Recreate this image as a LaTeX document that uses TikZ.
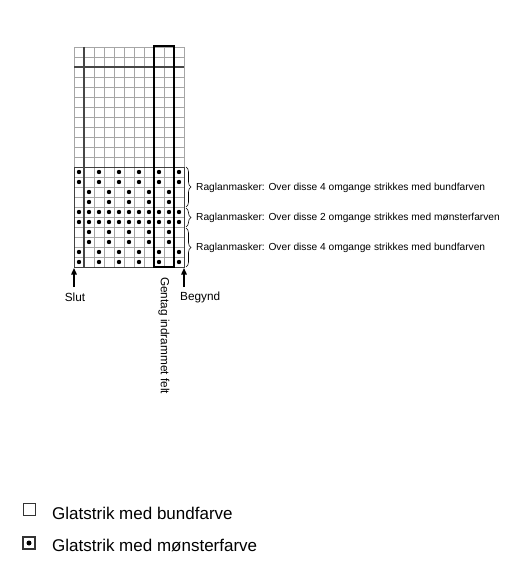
\documentclass[tikz,border=0pt]{standalone}
\usepackage{fontspec}
\setmainfont{Liberation Sans}
\usetikzlibrary{arrows.meta,positioning,decorations.pathreplacing}

\begin{document}
\begin{tikzpicture}[x=1pt,y=-1pt,
gridline/.style={draw=gray!70,line width=0.5pt},
heavyline/.style={draw=gray!55!black,line width=1.3pt},
stitch/.style={circle,fill=black,inner sep=0pt,minimum size=4.4pt},
repframe/.style={draw=black,line width=2.6pt},
ragbrace/.style={decorate,decoration={brace,amplitude=5pt},line width=0.6pt},
ragtext/.style={anchor=west,inner sep=0pt,font=\fontsize{10.2}{12}\selectfont},
marktext/.style={inner sep=0pt,font=\fontsize{11.8}{14}\selectfont},
markarrow/.style={-{Triangle[length=6.5pt,width=5.5pt]},line width=1.4pt},
legendbox/.style={draw=black!80,line width=0.6pt,minimum size=12pt,inner sep=0pt},
legendtext/.style={anchor=west,inner sep=0pt,font=\fontsize{17}{19}\selectfont}]
\useasboundingbox (0,0) rectangle (526,575);
% chart grid, 11 masker x 22 omgange
\foreach \i in {0,...,11} \draw[gridline] (74+10*\i,47) -- (74+10*\i,267);
\foreach \j in {0,...,22} \draw[gridline] (74,47+10*\j) -- (184,47+10*\j);
\draw[gridline,draw=black!75] (74,167) rectangle (184,267);
\draw[heavyline] (84,47) -- (84,267);
\draw[heavyline] (74,67) -- (184,67);
% pattern rows
\foreach \r in {1,2,9,10} \foreach \c in {1,3,...,11}
  \node[stitch] at (69+10*\c,162+10*\r) {};
\foreach \r in {3,4,7,8} \foreach \c in {2,4,...,10}
  \node[stitch] at (69+10*\c,162+10*\r) {};
\foreach \r in {5,6} \foreach \c in {1,...,11}
  \node[stitch] at (69+10*\c,162+10*\r) {};
\draw[repframe] (154,46) rectangle (174,267);
% braces
\coordinate (b1) at (186,167);
\coordinate (b2) at (186,207);
\coordinate (b3) at (186,208);
\coordinate (b4) at (186,227);
\coordinate (b5) at (186,228);
\coordinate (b6) at (186,267);
\draw[ragbrace] (b1) -- (b2);
\draw[ragbrace] (b3) -- (b4);
\draw[ragbrace] (b5) -- (b6);
\node[ragtext] (rag1) at (196,188) {Raglanmasker: Over disse 4 omgange strikkes med bundfarven};
\node[ragtext] (rag2) at (196,218) {Raglanmasker: Over disse 2 omgange strikkes med mønsterfarven};
\node[ragtext] (rag3) at (196,248) {Raglanmasker: Over disse 4 omgange strikkes med bundfarven};
% start and end
\coordinate (gl) at (74,268);
\coordinate (gr) at (184,268);
\node[marktext] (slut) at (75,297) {Slut};
\node[marktext,anchor=west] (begynd) at (180,297) {Begynd};
\draw[markarrow] (74,287) -- (gl);
\draw[markarrow] (184,287) -- (gr);
\node[marktext,rotate=-90,anchor=west] (gentag) at (164,277) {Gentag indrammet felt};
% legend
\node[legendbox] (lbund) at (29,509) {};
\node[legendtext] (tbund) at (52,513) {Glatstrik med bundfarve};
\node[legendbox,line width=1.2pt] (lmon) at (29,543) {};
\node[stitch,minimum size=5pt] at (lmon) {};
\node[legendtext] (tmon) at (52,545) {Glatstrik med mønsterfarve};
\end{tikzpicture}
\end{document}
